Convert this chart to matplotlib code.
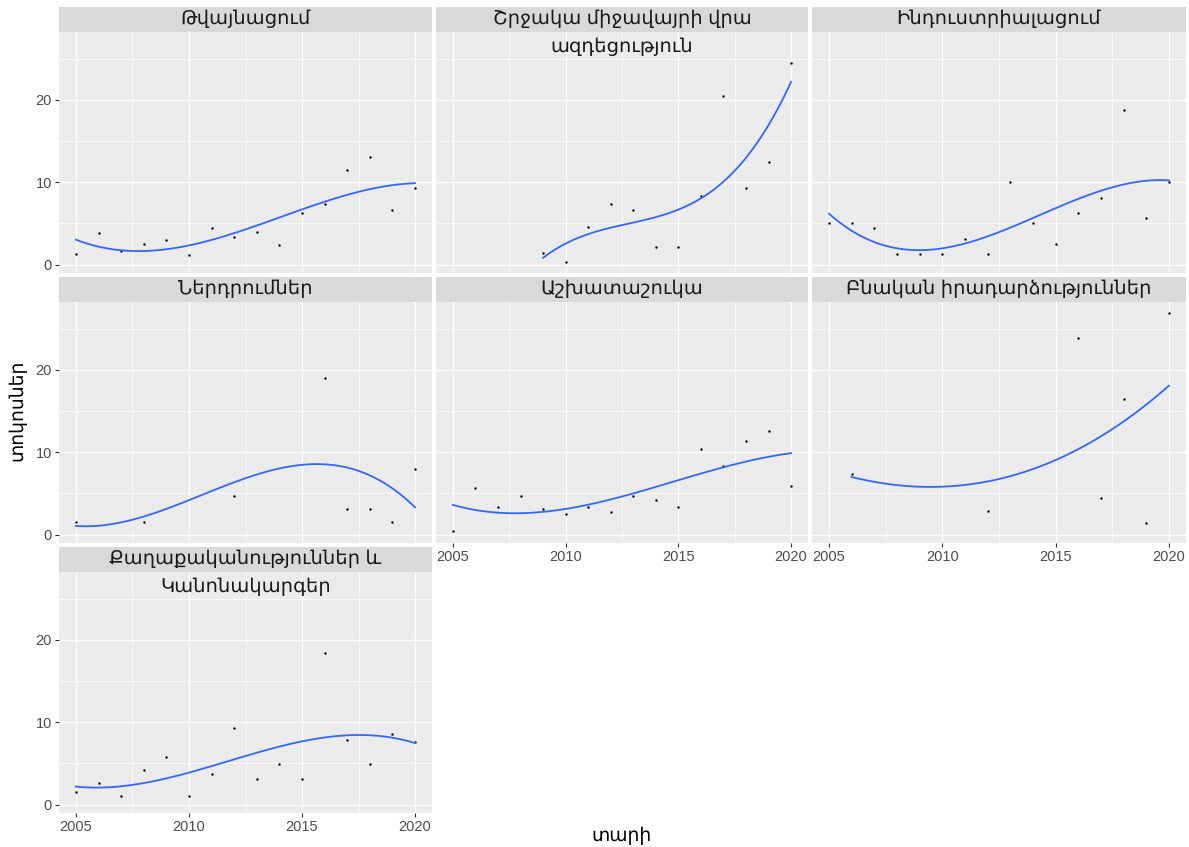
import numpy as np
import matplotlib.pyplot as plt
from matplotlib.patches import Rectangle

plt.rcParams["font.family"] = ["Liberation Sans", "DejaVu Sans"]

# facet titles
titles = [
    "Թվայնացում",
    "Շրջակա միջավայրի վրա\nազդեցություն",
    "Ինդուստրիալացում",
    "Ներդրումներ",
    "Աշխատաշուկա",
    "Բնական իրադարձություններ",
    "Քաղաքականություններ և\nԿանոնակարգեր",
]

all_years = list(range(2005, 2021))

x_digit = all_years
y_digit = [1.3, 3.8, 1.6, 2.5, 3.0, 1.1, 4.4, 3.3, 3.9, 2.4, 6.3, 7.4, 11.5, 13.0, 6.6, 9.3]

x_env = list(range(2009, 2021))
y_env = [1.4, 0.3, 4.5, 7.3, 6.6, 2.1, 2.1, 8.3, 20.4, 9.3, 12.4, 24.5]

x_ind = all_years
y_ind = [5.0, 5.0, 4.4, 1.25, 1.25, 1.25, 3.1, 1.25, 10.0, 5.0, 2.5, 6.2, 8.1, 18.75, 5.6, 10.0]

x_inv = [2005, 2008, 2012, 2016, 2017, 2018, 2019, 2020]
y_inv = [1.5, 1.5, 4.7, 19.0, 3.1, 3.1, 1.5, 7.9]

x_lab = all_years
y_lab = [0.4, 5.7, 3.3, 4.65, 3.15, 2.5, 3.4, 2.7, 4.65, 4.2, 3.4, 10.4, 8.3, 11.4, 12.6, 5.9]

x_nat = [2006, 2012, 2016, 2017, 2018, 2019, 2020]
y_nat = [7.4, 2.9, 23.9, 4.4, 16.4, 1.4, 26.9]

x_pol = all_years
y_pol = [1.57, 2.6, 1.05, 4.2, 5.75, 1.05, 3.65, 9.35, 3.13, 4.94, 3.13, 18.4, 7.83, 4.94, 8.6, 7.55]

xs = [x_digit, x_env, x_ind, x_inv, x_lab, x_nat, x_pol]
ys = [y_digit, y_env, y_ind, y_inv, y_lab, y_nat, y_pol]

W, H = 1189, 847
fig = plt.figure(figsize=(W / 100, H / 100), dpi=100)

cols = [(59, 432), (436, 808), (812, 1186)]
rows = [(7, 32, 273), (277, 302, 543), (547, 572, 813)]  # strip top, panel top, panel bottom

ally = np.concatenate([np.array(v, float) for v in ys])
ymin, ymax = ally.min(), ally.max()
pad = (ymax - ymin) * 0.05
ylim = (ymin - pad, ymax + pad)
xlim = (2005 - 0.75, 2020 + 0.75)

tick_col = "#4D4D4D"

for i, (title, x, y) in enumerate(zip(titles, xs, ys)):
    r, c = divmod(i, 3)
    x0, x1 = cols[c]
    st, pt, pb = rows[r]
    ax = fig.add_axes([x0 / W, 1 - pb / H, (x1 - x0) / W, (pb - pt) / H])
    ax.set_facecolor("#EBEBEB")
    for s in ax.spines.values():
        s.set_visible(False)
    ax.set_xlim(xlim)
    ax.set_ylim(ylim)
    ax.set_xticks([2005, 2010, 2015, 2020])
    ax.set_yticks([0, 10, 20])
    ax.set_xticks([2007.5, 2012.5, 2017.5], minor=True)
    ax.set_yticks([5, 15, 25], minor=True)
    ax.grid(True, which="major", color="white", lw=1.0)
    ax.grid(True, which="minor", color="white", lw=0.5)
    ax.set_axisbelow(True)
    ax.tick_params(which="major", length=3, width=0.8, color="#333333",
                   labelsize=10.5, labelcolor=tick_col, pad=2)
    ax.tick_params(which="minor", length=0)

    show_x = (i >= 4)
    show_y = (c == 0)
    if not show_x:
        ax.tick_params(axis="x", which="both", length=0, labelbottom=False)
    if not show_y:
        ax.tick_params(axis="y", which="both", length=0, labelleft=False)

    xa = np.array(x, float)
    ya = np.array(y, float)
    ax.scatter(xa, ya, s=3, color="black", zorder=3, linewidths=0)

    # smooth, lm with cubic polynomial
    coef = np.polyfit(xa, ya, 3)
    xf = np.linspace(xa.min(), xa.max(), 120)
    ax.plot(xf, np.polyval(coef, xf), color="#3366FF", lw=1.3, zorder=4)

    # strip
    fig.patches.append(Rectangle((x0 / W, 1 - pt / H), (x1 - x0) / W, (pt - st) / H,
                                 transform=fig.transFigure, facecolor="#D9D9D9",
                                 edgecolor="none", zorder=1))
    fig.text((x0 + x1) / 2 / W, 1 - (st + 3) / H, title, ha="center", va="top",
             fontsize=14, color="#1A1A1A", linespacing=1.6, zorder=5,
             family=["Liberation Sans", "DejaVu Sans"])

fig.text(622 / W, 1 - 836 / H, "տարի", ha="center", va="center", fontsize=13.5, color="black")
fig.text(17 / W, 1 - 410 / H, "տոկոսներ", ha="center", va="center", rotation=90,
         fontsize=13.5, color="black")

fig.savefig("out.png", dpi=100, facecolor="white")
